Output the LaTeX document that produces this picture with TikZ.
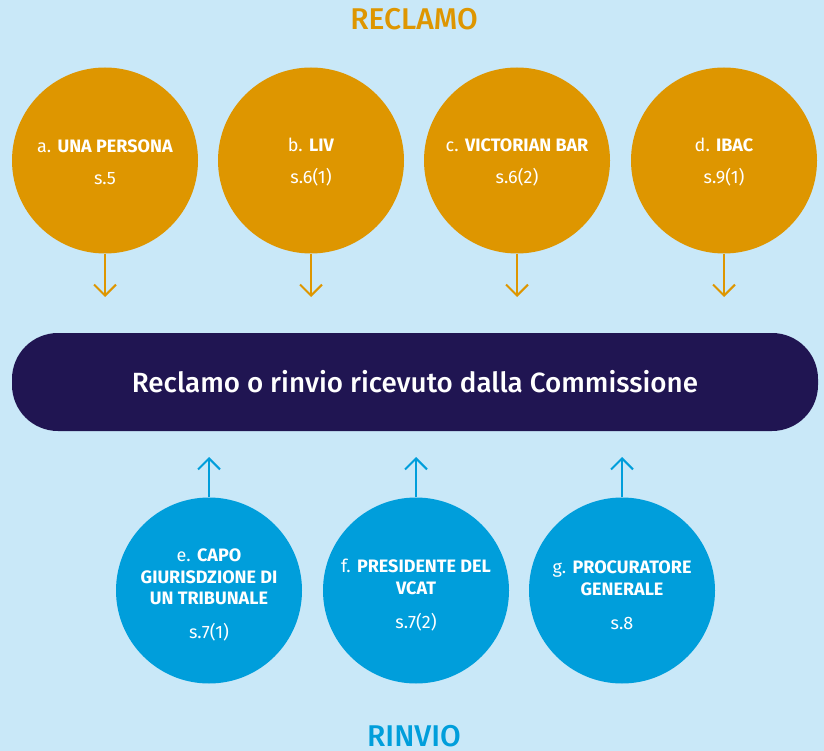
\documentclass[tikz,border=0pt]{standalone}
\usepackage{fontspec}
\setmainfont{Fira Sans}[BoldFont={* Bold}]
\newfontfamily\medfont{Fira Sans Medium}
\usetikzlibrary{arrows.meta}
\definecolor{bgc}{RGB}{201,232,248}
\definecolor{orc}{RGB}{222,150,0}
\definecolor{navc}{RGB}{32,21,82}
\definecolor{bluc}{RGB}{0,158,219}
\tikzset{
  claim/.style={circle, fill=orc, minimum size=186pt, inner sep=0pt},
  referral/.style={circle, fill=bluc, minimum size=186pt, inner sep=0pt},
  label/.style={inner sep=0pt, text=white, align=center, font=\fontsize{18}{21.5}\selectfont},
  downarrow/.style={draw=orc, line width=2pt, -{Straight Barb[length=11pt,width=22pt,line width=2pt]}},
  uparrow/.style={draw=bluc, line width=2pt, -{Straight Barb[length=11pt,width=22pt,line width=2pt]}},
  heading/.style={anchor=base, inner sep=0pt, font=\medfont\fontsize{30}{30}\selectfont},
}
\begin{document}
\begin{tikzpicture}[x=1pt,y=-1pt]
\useasboundingbox (0,0) rectangle (824,751);
\fill[bgc] (0,0) rectangle (824,751);

\node[heading, text=orc] (t1) at (414,30) {RECLAMO};
\node[heading, text=bluc] (t2) at (414,746) {RINVIO};

\node[claim] (a) at (105,160.5) {};
\node[claim] (b) at (311,160.5) {};
\node[claim] (c) at (517,160.5) {};
\node[claim] (d) at (724,160.5) {};
\node[label] (al) at (105,162) {a. \textbf{UNA PERSONA}\\[10.5pt] s.5};
\node[label] (bl) at (311,162) {b. \textbf{LIV}\\[10.5pt] s.6(1)};
\node[label] (cl) at (517,162) {c. \textbf{VICTORIAN BAR}\\[10.5pt] s.6(2)};
\node[label] (dl) at (724,162) {d. \textbf{IBAC}\\[10.5pt] s.9(1)};

\coordinate (ae) at (105,297);
\coordinate (be) at (311,297);
\coordinate (ce) at (517,297);
\coordinate (de) at (724,297);
\draw[downarrow] (a.south) -- (ae);
\draw[downarrow] (b.south) -- (be);
\draw[downarrow] (c.south) -- (ce);
\draw[downarrow] (d.south) -- (de);

\node[fill=navc, rounded corners=46pt, minimum width=806pt, minimum height=98pt, inner sep=0pt, text=white, font=\medfont\fontsize{27.8}{30}\selectfont] (m) at (415,382) {Reclamo o rinvio ricevuto dalla Commissione};

\node[referral] (e) at (209,590.5) {};
\node[referral] (f) at (416,590.5) {};
\node[referral] (g) at (622,590.5) {};
\node[label] (el) at (209,595) {e. \textbf{CAPO}\\\textbf{GIURISDZIONE DI}\\\textbf{UN TRIBUNALE}\\[12.5pt] s.7(1)};
\node[label] (fl) at (416,595) {f. \textbf{PRESIDENTE DEL}\\\textbf{VCAT}\\[12.5pt] s.7(2)};
\node[label] (gl) at (622,595) {g. \textbf{PROCURATORE}\\\textbf{GENERALE}\\[12.5pt] s.8};

\coordinate (ee) at (209,457);
\coordinate (fe) at (416,457);
\coordinate (ge) at (622,457);
\draw[uparrow] (e.north) -- (ee);
\draw[uparrow] (f.north) -- (fe);
\draw[uparrow] (g.north) -- (ge);
\end{tikzpicture}
\end{document}
